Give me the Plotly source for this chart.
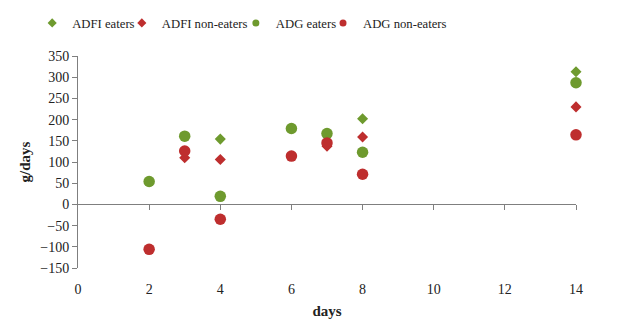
import plotly.graph_objects as go

# Daily intake (ADFI) and daily gain (ADG), g/day, for eaters and non-eaters
days = [2, 3, 4, 6, 7, 8, 14]
adfi_eaters = [None, None, 154, None, None, 202, 313]
adfi_non_eaters = [None, 110, 106, None, 137, 159, 230]
adg_eaters = [54, 161, 19, 179, 167, 123, 287]
adg_non_eaters = [-106, 126, -35, 114, 145, 71, 164]

x_ticks = [0, 2, 4, 6, 8, 10, 12, 14]
y_ticks = list(range(-150, 351, 50))

GREEN = "#6E9A2E"
RED = "#BE2E2E"
FONT = "Liberation Serif"
TEXT = "#222222"

series = [
    ("ADFI eaters", adfi_eaters, GREEN, "diamond", 8.5),
    ("ADFI non-eaters", adfi_non_eaters, RED, "diamond", 8.5),
    ("ADG eaters", adg_eaters, GREEN, "circle", 11.5),
    ("ADG non-eaters", adg_non_eaters, RED, "circle", 11.5),
]
legend_ids = ["legend", "legend2", "legend3", "legend4"]
legend_x = [-0.092, 0.088, 0.317, 0.492]

fig = go.Figure()

# data markers sit on the overlay axis that crosses at y = 0
for name, vals, color, symbol, size in series:
    fig.add_trace(go.Scatter(
        x=days, y=vals, mode="markers", name=name, showlegend=False,
        marker=dict(color=color, symbol=symbol, size=size, line=dict(width=0)),
        cliponaxis=False, xaxis="x2",
    ))

# small legend swatches, one legend box per series
for (name, vals, color, symbol, size), lid in zip(series, legend_ids):
    fig.add_trace(go.Scatter(
        x=[None], y=[None], mode="markers", name=name, legend=lid,
        marker=dict(color=color, symbol=symbol, size=7, line=dict(width=0)),
    ))

legend_style = dict(
    orientation="h", xanchor="left", y=1.155, yanchor="middle",
    font=dict(family=FONT, size=12.7, color=TEXT),
    itemwidth=30, bgcolor="rgba(0,0,0,0)",
)
layout_legends = {lid: dict(legend_style, x=lx) for lid, lx in zip(legend_ids, legend_x)}

fig.update_layout(
    width=636, height=326,
    margin=dict(l=78, r=60, t=56, b=58, autoexpand=False),
    paper_bgcolor="white", plot_bgcolor="white",
    font=dict(family=FONT, size=14, color=TEXT),
    showlegend=True,
    # bottom axis carries only the labels and title
    xaxis=dict(
        range=[0, 14], tickvals=x_ticks, showline=False, showgrid=False,
        zeroline=False, ticks="outside", ticklen=8,
        tickcolor="rgba(0,0,0,0)",
        tickfont=dict(family=FONT, size=14, color=TEXT),
        title=dict(text="<b>days</b>", font=dict(family=FONT, size=15, color=TEXT), standoff=9),
    ),
    # axis line crossing at y = 0, with tick marks
    xaxis2=dict(
        range=[0, 14], tickvals=x_ticks[1:], overlaying="x", anchor="free",
        position=150 / 500, side="bottom", showline=True, linecolor="#7f7f7f",
        linewidth=1, ticks="outside", ticklen=5, tickcolor="#7f7f7f",
        showticklabels=False, showgrid=False, zeroline=False,
    ),
    yaxis=dict(
        range=[-150, 350], tickvals=y_ticks, showline=True, linecolor="#7f7f7f",
        linewidth=1, ticks="outside", ticklen=5, tickcolor="#7f7f7f",
        showgrid=False, zeroline=False,
        tickfont=dict(family=FONT, size=14, color=TEXT),
        title=dict(text="<b>g/days</b>", font=dict(family=FONT, size=15, color=TEXT), standoff=6),
    ),
    **layout_legends,
)

fig.write_html("out.html")
